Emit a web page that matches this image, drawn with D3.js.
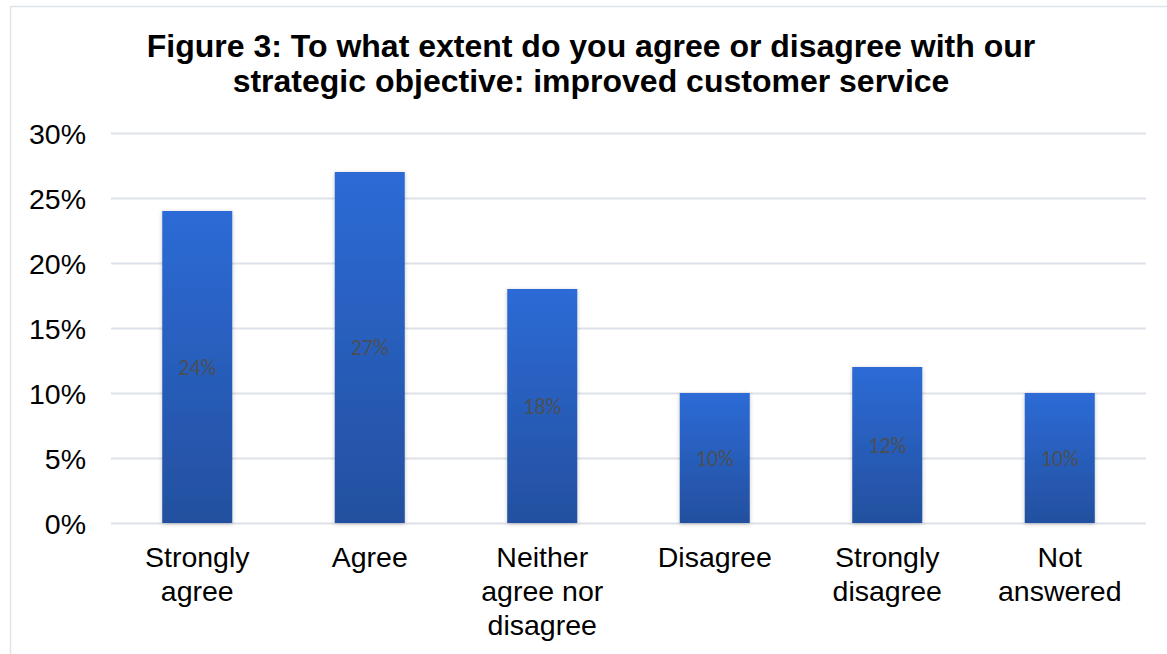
<!DOCTYPE html>
<html>
<head>
<meta charset="utf-8">
<script src="https://cdn.jsdelivr.net/npm/d3@7"></script>
<style>
  html, body { margin: 0; padding: 0; background: #fff; }
  svg { display: block; }
</style>
</head>
<body>
<svg id="chart" width="1167" height="654"></svg>
<script>
// Survey responses: share of respondents per answer
const categories = ["Strongly agree", "Agree", "Neither agree nor disagree", "Disagree", "Strongly disagree", "Not answered"];
const categoryLines = [["Strongly", "agree"], ["Agree"], ["Neither", "agree nor", "disagree"], ["Disagree"], ["Strongly", "disagree"], ["Not", "answered"]];
const values = [0.24, 0.27, 0.18, 0.10, 0.12, 0.10];
const yTicks = [0, 0.05, 0.10, 0.15, 0.20, 0.25, 0.30];
const titleLines = ["Figure 3: To what extent do you agree or disagree with our", "strategic objective: improved customer service"];

const svg = d3.select("#chart");
const margin = { left: 111, right: 21, top: 133, bottom: 131 };
const W = 1167, H = 654;

// chart area frame (only top and left edges fall inside the view)
svg.append("rect")
  .attr("x", 10.5).attr("y", 6.5)
  .attr("width", W + 20).attr("height", H + 20)
  .attr("fill", "#fff").attr("stroke", "#dfe3ea").attr("stroke-width", 1.5);

const defs = svg.append("defs");
const grad = defs.append("linearGradient").attr("id", "barGrad")
  .attr("x1", 0).attr("y1", 0).attr("x2", 0).attr("y2", 1);
grad.append("stop").attr("offset", "0%").attr("stop-color", "#2d6bd6");
grad.append("stop").attr("offset", "100%").attr("stop-color", "#23509f");

const shadow = defs.append("filter").attr("id", "barShadow")
  .attr("x", "-20%").attr("y", "-5%").attr("width", "140%").attr("height", "115%");
shadow.append("feDropShadow").attr("dx", 0).attr("dy", 1)
  .attr("stdDeviation", 2).attr("flood-color", "#000").attr("flood-opacity", 0.22);

const x = d3.scaleBand()
  .domain(categories)
  .range([margin.left, W - margin.right])
  .paddingInner(0.594)
  .paddingOuter(0.297);

const y = d3.scaleLinear()
  .domain([0, 0.30])
  .range([H - margin.bottom, margin.top]);

// gridlines
svg.append("g")
  .selectAll("line")
  .data(yTicks)
  .join("line")
  .attr("x1", margin.left).attr("x2", W - margin.right)
  .attr("y1", d => Math.round(y(d)) + 0.5).attr("y2", d => Math.round(y(d)) + 0.5)
  .attr("stroke", "#dde1e8").attr("stroke-width", 2);

// y axis labels
const yAxis = d3.axisLeft(y).tickValues(yTicks).tickFormat(d3.format(".0%")).tickSize(0).tickPadding(0);
const yg = svg.append("g").attr("transform", `translate(86,0)`).call(yAxis);
yg.select(".domain").remove();
yg.selectAll("text")
  .attr("font-family", "Liberation Sans, Arial, sans-serif")
  .attr("font-size", 28.5)
  .attr("fill", "#000")
  .attr("dy", "0.36em");

// bars
svg.append("g")
  .selectAll("rect")
  .data(categories)
  .join("rect")
  .attr("x", d => x(d))
  .attr("y", (d, i) => y(values[i]))
  .attr("width", x.bandwidth())
  .attr("height", (d, i) => y(0) - y(values[i]))
  .attr("fill", "url(#barGrad)")
  .attr("filter", "url(#barShadow)");

// value labels centred in each bar
svg.append("g")
  .selectAll("text")
  .data(categories)
  .join("text")
  .attr("x", d => x(d) + x.bandwidth() / 2)
  .attr("y", (d, i) => (y(values[i]) + y(0)) / 2)
  .attr("dy", "0.36em")
  .attr("text-anchor", "middle")
  .attr("font-family", "Carlito, Lato, sans-serif")
  .attr("font-size", 22)
  .attr("fill", "#4a4f57")
  .text((d, i) => d3.format(".0%")(values[i]));

// category labels
const xg = svg.append("g");
categories.forEach((c, i) => {
  const cx = x(c) + x.bandwidth() / 2;
  const t = xg.append("text")
    .attr("x", cx)
    .attr("y", 567)
    .attr("text-anchor", "middle")
    .attr("font-family", "Liberation Sans, Arial, sans-serif")
    .attr("font-size", 28.5)
    .attr("fill", "#000");
  categoryLines[i].forEach((ln, j) => {
    t.append("tspan").attr("x", cx).attr("dy", j === 0 ? 0 : 34).text(ln);
  });
});

// title
const title = svg.append("text")
  .attr("x", 591)
  .attr("y", 57)
  .attr("text-anchor", "middle")
  .attr("font-family", "Liberation Sans, Arial, sans-serif")
  .attr("font-weight", "bold")
  .attr("font-size", 32)
  .attr("fill", "#000");
titleLines.forEach((ln, j) => {
  title.append("tspan").attr("x", 591).attr("dy", j === 0 ? 0 : 35).text(ln);
});
</script>
</body>
</html>
